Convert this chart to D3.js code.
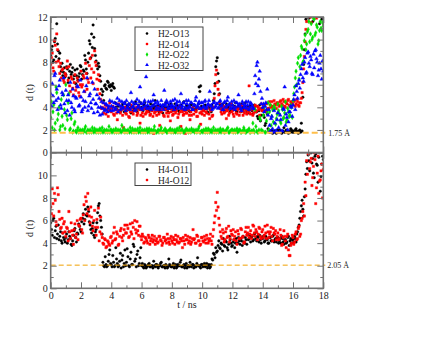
<!DOCTYPE html>
<html><head><meta charset="utf-8">
<script src="https://cdn.jsdelivr.net/npm/d3@7"></script>
<style>
body{margin:0;background:#fff}
text{font-family:"Liberation Serif","Times New Roman","DejaVu Serif",serif;fill:#222}
</style></head><body>
<script>
// time axis, one value every 0.05 ns
var t = d3.range(361).map(function(i) { return i / 20; });
var xTicks = [0, 2, 4, 6, 8, 10, 12, 14, 16, 18];
var topLabels = ["H2-O13", "H2-O14", "H2-O22", "H2-O32"];
var botLabels = ["H4-O11", "H4-O12"];
var topCut = 1.75, botCut = 2.05;

var h2o13 = [
 8.6,9.1,9.4,8.0,8.2,9.8,10.1,8.5,11.4,9.6,9.0,8.3,8.8,7.6,7.2,7.9,6.8,7.1,7.5,6.7,
 6.9,7.6,7.4,6.2,6.6,7.2,7.8,6.9,7.1,7.5,6.5,6.8,7.3,6.1,6.8,7.4,6.4,6.7,7.0,7.7,
 7.6,6.5,6.9,7.3,7.2,8.6,8.2,7.4,7.0,8.0,8.8,9.9,9.6,8.4,10.5,9.3,11.3,10.2,9.2,8.6,
 8.1,7.7,7.4,7.9,7.6,6.8,6.3,5.6,5.1,5.4,4.6,5.9,6.0,5.7,5.6,6.3,6.2,5.9,5.8,6.0,
 5.5,5.9,6.1,5.8,5.7,4.4,4.0,4.3,3.8,4.1,4.2,3.7,3.6,4.0,4.1,4.3,3.9,3.6,4.4,4.0,
 3.7,4.2,4.0,3.8,4.3,3.9,3.5,4.1,4.1,3.7,3.9,4.3,4.5,3.8,3.6,4.0,4.2,3.9,3.8,4.4,
 4.0,3.8,3.7,4.2,4.4,3.9,3.9,4.1,4.1,3.7,3.6,4.0,4.3,3.8,3.8,4.2,4.0,3.9,4.6,4.1,
 3.9,4.0,4.2,3.6,3.7,4.1,4.1,3.9,3.5,4.2,4.0,3.8,4.4,4.0,3.8,3.6,4.2,4.1,3.9,4.3,
 4.1,3.8,3.7,4.0,4.3,3.9,3.9,4.2,4.0,3.7,3.6,4.1,4.2,3.9,3.8,4.4,4.5,3.8,4.0,4.2,
 3.8,4.0,4.1,3.7,3.6,4.2,4.3,3.9,3.9,4.1,4.2,3.8,3.7,4.0,4.0,4.3,5.8,5.4,5.9,4.1,
 4.0,3.8,3.7,4.1,4.2,3.9,3.9,3.6,3.5,4.0,4.1,3.8,3.6,4.2,4.0,4.6,5.2,6.1,7.6,8.1,
 8.4,7.0,6.3,5.2,4.2,3.9,3.8,4.3,4.1,3.7,3.6,4.0,4.3,3.8,3.9,4.1,4.0,3.6,3.7,4.2,
 4.2,3.9,3.8,4.1,4.4,3.7,3.6,4.0,4.0,4.2,3.9,3.6,4.3,4.0,3.7,3.9,4.1,4.4,3.8,3.6,
 4.0,3.7,3.5,4.1,4.2,3.8,3.7,3.4,3.9,4.2,4.1,3.6,3.6,3.2,3.0,3.7,4.2,2.8,3.3,3.9,
 3.8,3.3,3.1,2.4,2.6,3.6,3.4,2.1,1.9,1.8,1.8,1.9,2.0,1.7,1.8,1.9,1.9,1.8,1.7,2.0,
 1.8,1.9,2.0,1.8,1.9,1.7,1.8,1.9,2.2,1.8,1.8,2.0,1.9,1.8,1.7,1.9,1.8,2.1,2.0,1.8,
 1.9,1.8,1.8,2.0,2.1,1.9,1.8,1.7,1.9,2.0,1.8,2.6,1.9,4.9,7.8,9.1,10.5,11.8,13,12.8,
 13,11.9,12.5,13,13,12.7,11.6,13,13,12.3,13,13,12.2,13,13,11.4,13,12.6,11.8,13,
 13];
var h2o14 = [
 7.8,8.4,8.8,7.5,7.2,9.9,9.5,8.0,10.5,9.1,8.1,7.6,7.0,7.9,6.6,7.3,7.4,6.4,6.2,7.0,
 6.8,7.5,8.1,6.4,7.6,5.9,5.4,6.7,6.5,5.7,5.1,6.2,6.9,5.5,5.8,6.6,6.3,5.3,5.0,6.0,
 7.2,5.8,6.0,6.8,6.6,5.4,7.9,7.0,5.6,6.5,6.2,7.7,8.3,6.6,7.4,8.6,6.1,7.1,9.0,8.0,
 7.7,6.5,5.6,6.9,6.4,5.2,4.7,3.9,4.0,4.4,3.5,3.9,4.2,3.4,3.8,4.1,3.2,3.7,4.4,3.9,
 3.6,3.9,4.1,3.4,3.3,3.8,3.9,3.5,2.9,3.7,4.3,3.6,3.5,4.0,3.8,3.3,2.2,3.9,4.0,3.5,
 3.4,3.8,3.9,3.2,3.1,3.6,4.2,3.9,3.6,3.4,1.8,3.7,3.7,4.0,3.3,3.5,4.1,3.8,2.6,3.3,
 3.8,3.5,3.2,3.9,4.0,3.4,3.5,3.7,2.0,3.6,3.9,3.3,3.4,3.8,3.7,3.2,1.7,3.5,3.6,3.9,
 3.3,3.7,4.0,3.4,2.4,3.6,3.6,3.9,3.9,3.3,3.2,3.8,1.9,3.5,3.8,3.2,3.5,3.9,2.8,3.6,
 3.9,3.3,3.4,3.7,1.8,3.5,3.7,3.9,3.1,3.4,4.1,3.6,2.3,3.8,3.6,3.3,3.4,3.7,1.7,3.5,
 3.5,3.9,3.8,3.3,2.9,3.6,3.3,3.8,4.0,3.4,1.9,3.7,3.6,3.2,3.2,3.9,3.9,3.5,2.5,3.6,
 3.4,3.8,3.7,3.3,1.8,3.6,3.5,3.9,4.2,3.4,3.0,3.7,3.8,3.2,3.3,4.0,4.8,5.9,6.9,7.3,
 6.2,5.6,5.1,4.4,3.9,3.6,3.4,3.8,4.1,3.5,3.6,3.9,3.0,3.7,3.8,3.3,3.5,4.0,4.3,3.6,
 3.7,3.4,3.2,3.9,4.0,3.5,3.4,3.8,3.9,3.3,3.6,4.1,4.2,3.7,3.3,3.6,3.5,3.9,3.8,3.4,
 3.6,3.9,5.9,3.5,3.4,3.8,3.9,3.3,3.5,4.0,4.2,3.6,3.7,4.1,4.0,3.8,3.3,3.9,4.3,3.7,
 3.8,4.2,4.1,3.7,3.6,4.3,4.4,3.9,3.9,4.5,4.2,4.0,4.5,4.1,4.0,4.6,4.3,4.2,3.9,4.4,
 4.4,4.2,4.1,4.5,4.6,4.3,4.2,4.7,4.5,4.1,4.0,4.4,4.3,4.6,4.7,4.2,4.1,4.5,4.4,4.3,
 4.2,4.5,4.6,4.1,4.3,4.7,4.5,4.2,4.1,4.4,4.4,4.8,5.3,6.2,7.4,8.5,9.8,10.9,11.6,12.3,
 12.4,13,13,12.0,11.5,13,13,12.8,12.6,13,13,11.9,13,13,12.1,13,13,12.5,13,13,
 13];
var h2o22 = [
 3.1,4.5,2.2,3.6,4.2,2.0,2.6,5.8,5.3,2.9,3.4,4.0,2.0,2.3,4.7,3.2,2.4,5.1,3.8,2.1,
 6.0,3.3,2.9,4.4,5.2,2.0,2.1,3.0,3.5,1.8,1.9,2.5,2.7,1.9,1.8,2.0,2.2,1.8,1.9,2.0,
 1.8,1.9,2.0,1.8,1.9,2.1,2.3,1.8,1.8,2.0,1.9,1.8,2.0,1.9,1.8,2.2,1.9,1.8,2.1,1.9,
 1.8,2.0,1.9,1.8,2.0,2.1,1.8,1.9,2.2,1.8,1.9,2.0,1.8,1.9,2.0,1.8,1.9,2.3,1.8,2.0,
 2.0,1.8,1.9,2.0,1.8,1.9,2.1,1.8,1.9,2.0,1.8,1.9,2.0,1.8,2.4,1.9,1.9,2.1,1.8,1.9,
 1.9,1.8,2.0,1.9,1.8,2.2,1.9,1.8,2.1,1.9,1.8,2.0,2.0,1.8,1.9,2.1,1.8,1.9,2.2,1.8,
 1.9,2.0,1.8,1.9,2.0,1.8,1.9,2.1,1.8,1.9,2.1,1.8,1.9,2.0,1.8,1.9,2.0,2.3,1.9,1.8,
 1.8,1.9,2.0,1.8,1.9,2.0,2.2,1.8,1.8,1.9,1.9,2.1,2.0,1.8,1.8,1.9,1.9,2.0,2.1,1.8,
 1.9,2.0,1.8,1.9,2.0,1.8,1.9,2.1,1.8,1.9,2.2,1.8,1.9,2.0,2.0,1.8,1.8,1.9,1.9,2.1,
 2.0,1.9,1.8,2.0,1.9,1.8,2.1,1.9,1.9,2.0,1.8,1.9,2.0,1.8,1.9,2.1,2.3,1.8,1.8,1.9,
 1.9,1.8,2.0,1.9,1.8,2.1,1.9,1.8,2.1,2.0,1.8,1.9,2.0,1.8,1.9,2.2,1.8,1.9,2.0,1.8,
 1.9,2.0,1.8,1.9,2.1,1.8,1.9,2.0,2.0,1.8,1.8,1.9,1.9,2.1,2.2,1.8,1.8,1.9,1.9,2.0,
 2.0,1.8,1.9,2.0,1.8,1.9,2.1,1.8,1.9,2.0,2.0,1.8,1.8,1.9,1.9,2.2,2.0,1.8,1.8,1.9,
 1.9,2.0,2.1,1.8,1.8,1.9,1.9,2.6,2.0,1.8,3.8,2.3,1.9,1.8,1.8,2.0,3.1,2.9,2.0,1.9,
 1.9,3.3,4.0,1.8,1.8,2.8,3.5,4.4,2.0,3.6,4.2,2.4,3.2,3.8,2.7,4.1,3.9,2.5,3.0,3.4,
 4.3,3.7,3.4,2.8,2.6,4.1,3.8,3.0,3.1,3.5,4.5,2.7,2.9,3.9,3.6,3.2,3.3,4.2,4.0,3.1,
 4.6,5.2,5.8,6.6,7.2,6.0,7.9,8.4,6.5,7.6,8.6,9.4,9.2,8.0,8.1,9.9,10.4,9.1,9.6,10.7,
 10.9,11.6,9.8,10.5,11.4,10.0,10.2,11.9,11.8,10.4,10.6,11.3,11.1,9.6,9.9,10.8,11.6,11.0,10.8,11.5,
 11.2];
var h2o32 = [
 5.2,4.1,6.1,5.0,4.4,6.8,7.0,4.6,5.6,3.8,4.8,5.9,6.4,4.2,3.9,5.3,5.1,6.6,4.3,3.5,
 5.5,4.6,3.7,5.1,4.6,3.3,6.2,4.4,4.0,5.6,5.0,3.8,3.6,4.9,4.8,5.9,5.8,4.1,4.2,6.4,
 4.9,3.6,3.8,4.6,5.4,4.0,4.5,5.9,6.6,3.7,4.1,5.0,5.2,4.4,3.9,6.2,4.7,3.5,5.6,4.3,
 4.3,5.1,3.6,4.0,4.8,3.3,4.0,4.5,3.4,3.9,4.4,3.7,3.8,4.3,4.2,3.6,3.9,4.1,4.6,3.7,
 4.1,4.5,3.7,4.0,4.4,3.8,3.9,4.3,4.8,3.6,4.2,4.6,3.8,4.1,4.5,3.9,4.0,4.4,4.3,3.7,
 4.6,4.0,3.9,4.3,4.2,3.8,5.3,4.5,4.0,4.1,4.4,3.7,3.8,4.3,4.7,4.0,4.1,4.5,5.8,3.9,
 4.3,3.8,4.0,4.4,4.6,4.1,6.7,3.9,4.2,4.5,3.9,4.0,4.5,3.8,4.1,4.6,5.1,4.2,4.4,3.8,
 4.0,4.5,4.3,3.9,3.8,4.2,4.6,4.0,4.2,3.8,5.5,4.3,4.1,4.6,4.4,3.9,3.9,4.2,4.5,4.0,
 4.2,4.6,4.0,3.8,4.7,4.1,4.3,4.5,3.9,4.0,4.5,4.2,5.2,3.9,4.1,4.4,4.4,3.8,4.0,4.6,
 4.3,3.9,4.6,4.1,4.0,4.4,4.4,3.8,3.8,4.2,4.2,4.6,4.9,4.0,4.1,4.3,4.5,3.9,3.9,4.4,
 4.4,4.0,4.1,4.5,4.6,3.9,4.0,4.2,4.3,4.6,5.4,4.1,4.2,3.8,3.9,4.4,4.5,4.0,4.1,4.3,
 4.3,3.9,4.0,4.5,4.6,4.1,4.2,3.8,3.8,4.4,4.5,4.0,4.1,4.6,4.9,4.2,4.3,3.9,3.9,4.5,
 4.2,4.0,4.6,3.8,4.0,4.4,4.4,4.1,5.1,4.3,4.1,3.9,3.7,4.5,4.3,4.0,4.0,4.2,4.5,3.9,
 4.2,4.5,3.8,4.0,4.4,4.3,4.1,3.9,3.9,5.2,6.8,6.1,7.7,8.0,5.9,6.5,7.2,5.4,4.3,4.8,
 4.0,4.3,3.6,4.1,4.4,3.8,5.6,3.3,3.8,2.4,1.9,3.0,3.2,2.1,1.8,3.7,2.6,1.9,1.9,2.9,
 3.5,2.2,1.8,3.3,2.9,1.9,1.9,3.9,3.8,5.8,2.4,3.4,3.1,2.0,2.7,3.6,3.6,4.1,4.0,3.2,
 4.2,4.7,5.1,3.8,5.9,5.4,4.8,6.1,6.4,5.7,6.9,7.4,7.8,6.6,6.3,8.0,8.4,7.0,7.1,8.8,
 8.9,7.9,7.6,8.5,8.2,7.0,6.9,8.7,7.5,9.0,9.1,8.3,8.0,6.8,7.3,7.9,8.6,7.4,6.5,8.1,
 7.2];
var h4o11 = [
 5.8,5.2,4.7,6.0,6.2,4.5,5.1,5.5,4.4,4.8,5.6,4.3,4.6,5.0,4.2,4.0,4.9,4.5,4.3,4.1,
 4.5,4.8,4.0,4.3,5.0,4.6,4.4,3.9,3.8,4.2,4.7,5.1,5.3,4.5,4.1,4.9,4.8,5.7,5.5,5.2,
 5.0,5.9,6.2,6.6,5.7,6.1,7.0,6.5,6.4,7.2,6.8,5.9,5.6,5.2,4.9,5.3,5.8,4.7,4.5,5.0,
 5.2,5.8,6.7,7.3,7.5,6.4,6.0,5.4,4.8,2.3,2.0,1.9,2.8,2.1,1.9,2.0,2.4,3.0,3.4,2.2,
 2.1,1.9,2.9,2.3,1.9,2.0,3.6,2.6,2.2,1.9,2.0,2.4,3.1,1.8,2.5,2.9,1.9,2.2,3.4,2.0,
 2.3,3.5,2.8,2.0,1.9,2.6,3.2,2.1,2.1,3.9,3.7,2.4,2.6,1.9,3.0,3.3,2.0,2.2,2.7,3.6,
 2.0,2.2,1.9,1.8,2.1,2.0,1.8,1.9,2.0,2.1,2.2,1.9,1.9,2.0,2.0,1.8,2.4,2.0,1.9,2.1,
 2.1,1.9,1.8,2.0,2.0,2.2,2.3,1.9,1.9,2.0,2.0,1.8,2.1,2.0,1.8,1.9,2.6,2.1,2.0,1.9,
 1.9,2.0,2.2,1.8,2.0,2.1,1.8,1.9,2.1,2.0,2.0,2.3,2.5,1.9,1.9,2.0,2.1,1.8,2.0,2.2,
 1.8,2.0,2.0,1.9,2.3,2.0,1.9,2.1,2.1,1.8,2.0,1.9,1.9,2.2,2.7,2.0,2.0,1.9,1.8,2.1,
 2.1,1.9,2.0,2.2,1.9,2.0,2.2,1.8,2.0,2.1,1.8,1.9,2.1,2.6,2.5,3.1,3.0,2.7,3.6,3.2,
 3.3,3.8,4.2,3.6,3.5,4.0,3.9,3.3,4.4,3.8,3.7,4.2,4.1,3.6,3.4,3.9,4.6,4.3,4.0,3.7,
 3.8,4.1,4.3,3.6,4.0,4.4,3.2,4.0,4.5,4.2,3.9,4.4,4.2,3.8,4.6,4.1,4.0,4.5,4.3,3.9,
 4.8,4.3,4.4,4.7,4.1,4.5,4.6,4.2,4.3,4.8,4.9,4.4,4.2,4.6,4.5,4.1,4.7,4.3,4.0,4.5,
 4.4,4.6,4.1,4.2,4.6,4.4,4.3,4.0,4.0,4.5,4.5,4.2,4.2,4.6,4.7,4.1,4.3,4.4,4.1,4.5,
 4.5,4.0,4.2,4.4,4.0,4.6,4.4,4.1,3.9,4.3,4.3,4.0,4.1,4.5,4.6,3.8,4.2,4.4,4.0,4.3,
 4.3,4.1,4.6,4.4,4.1,4.8,5.0,5.4,5.6,6.2,6.8,7.3,7.8,7.0,6.4,8.1,8.8,10.1,11.2,10.6,
 11.8,11.3,10.4,12.0,12.0,11.1,11.5,10.2,9.8,11.7,11.9,11.0,10.9,9.4,11.6,12.0,8.6,9.9,11.0,11.7,
 11.4];
var h4o12 = [
 7.2,6.6,8.8,7.5,6.4,8.4,7.8,5.9,5.6,8.9,8.3,6.8,6.1,5.3,5.4,6.2,4.9,5.7,5.9,5.0,
 4.6,5.4,5.3,4.2,6.8,5.0,4.4,5.8,5.1,4.7,3.9,5.2,5.7,4.5,4.8,6.0,4.3,5.6,5.5,6.1,
 6.2,5.2,4.9,6.5,7.4,6.0,8.1,7.7,6.6,8.4,7.0,6.4,5.8,7.2,6.3,5.5,5.1,6.0,6.9,5.4,
 4.7,6.1,5.4,7.1,4.2,5.0,6.3,4.8,4.5,4.0,3.9,4.4,4.3,3.6,3.7,4.2,4.1,3.9,3.8,4.5,
 4.6,4.0,4.2,4.9,5.4,4.3,4.4,5.0,4.8,3.8,3.9,4.6,5.1,5.3,4.5,4.2,4.7,5.2,5.6,4.9,
 4.9,5.6,5.3,4.5,4.6,5.7,5.0,4.8,5.8,5.4,4.4,6.0,5.2,4.9,5.9,5.1,4.7,5.5,5.5,4.6,
 4.3,4.8,4.6,4.0,4.1,4.5,4.4,4.2,4.0,4.7,4.5,3.9,4.2,4.4,4.7,4.1,4.3,4.6,3.9,4.2,
 4.4,4.0,4.1,4.6,4.6,4.3,4.2,3.8,4.0,4.5,4.5,4.2,4.3,4.0,4.8,4.4,4.1,3.9,4.4,4.6,
 4.2,4.0,4.5,4.3,3.9,4.7,4.3,4.1,4.6,4.0,4.1,4.4,4.4,4.2,3.6,4.5,4.2,3.9,4.7,4.3,
 4.3,4.6,4.0,4.2,4.5,3.9,4.1,4.4,5.2,4.3,4.4,4.0,4.0,4.7,4.6,4.2,4.2,3.8,3.9,4.5,
 4.5,4.2,4.1,4.6,4.3,4.0,4.7,4.4,4.0,4.2,4.4,4.8,4.2,3.9,4.6,5.2,5.8,6.4,7.6,6.9,
 8.5,7.2,6.2,5.6,5.0,4.6,4.4,5.2,4.9,4.1,4.3,5.0,5.3,4.5,4.6,5.5,4.1,4.4,5.1,4.8,
 4.7,5.2,4.3,4.6,5.0,4.2,3.9,5.1,4.8,4.4,4.4,5.3,5.2,4.5,4.6,4.0,4.1,5.0,5.4,4.7,
 4.9,5.4,4.5,4.8,5.1,4.4,4.7,5.6,5.5,4.9,4.6,5.2,5.0,4.3,4.8,5.4,5.3,4.6,4.4,5.0,
 5.2,4.5,4.7,5.5,4.9,4.4,5.6,5.0,4.5,4.8,5.0,5.4,4.6,4.2,5.3,4.9,4.8,5.1,4.3,4.6,
 4.9,4.3,4.4,5.2,4.7,3.8,3.9,4.5,5.1,4.6,4.2,3.6,4.6,4.8,3.4,2.9,2.9,3.8,4.0,4.7,
 4.5,3.9,4.1,4.8,5.0,4.3,4.4,5.3,5.5,4.6,4.8,6.0,6.2,6.8,7.5,6.4,9.4,8.2,11.3,10.1,
 11.9,12.0,10.6,11.2,11.5,9.1,9.8,10.8,12.0,11.4,7.5,8.9,10.2,11.7,8.4,9.5,9.6,10.4,11.0,8.0,
 10.5];

var width = 440, height = 340;
var serif = '"Liberation Serif","Times New Roman","DejaVu Serif",serif';
var svg = d3.select("body").append("svg")
    .attr("width", width)
    .attr("height", height)
    .attr("font-family", serif);

var x = d3.scaleLinear().domain([0, 18]).range([50.7, 323.3]);
var yTop = d3.scaleLinear().domain([0, 12]).range([152.5, 17]);
var yBot = d3.scaleLinear().domain([0, 12]).range([288.3, 152.8]);

var even = [0, 2, 4, 6, 8, 10, 12], odd = [1, 3, 5, 7, 9, 11];
var xMinor = d3.range(1, 18, 2);
var gray = "#707070";

var symbols = [
  {type: d3.symbolCircle, size: 5, color: "#000000"},
  {type: d3.symbolSquare, size: 5.5, color: "#ff0000"},
  {type: d3.symbolDiamond, size: 6, color: "#00e000"},
  {type: d3.symbolTriangle, size: 6, color: "#0000ff"}
];

function clipFor(id, y) {
  svg.append("clipPath").attr("id", id)
    .append("rect")
    .attr("x", x(0)).attr("y", y(12))
    .attr("width", x(18) - x(0)).attr("height", y(0) - y(12));
}
clipFor("clipTop", yTop);
clipFor("clipBot", yBot);

function drawSeries(g, vals, y, s) {
  g.append("g").selectAll("path").data(vals).join("path")
    .attr("transform", function(d, i) { return "translate(" + x(t[i]) + "," + y(d) + ")"; })
    .attr("d", d3.symbol(s.type, s.size))
    .attr("fill", s.color)
    .attr("stroke", s.color)
    .attr("stroke-width", 0.4);
}

var gTop = svg.append("g").attr("clip-path", "url(#clipTop)");
[h2o13, h2o14, h2o22, h2o32].forEach(function(v, i) { drawSeries(gTop, v, yTop, symbols[i]); });

var gBot = svg.append("g").attr("clip-path", "url(#clipBot)");
[h4o11, h4o12].forEach(function(v, i) { drawSeries(gBot, v, yBot, symbols[i]); });

// cutoff lines
svg.append("line")
    .attr("x1", x(0)).attr("x2", x(18) + 2)
    .attr("y1", yTop(topCut)).attr("y2", yTop(topCut))
    .attr("stroke", "#ffbf4a").attr("stroke-width", 2.2)
    .attr("stroke-dasharray", "6,3");
svg.append("text").attr("x", x(18) + 5).attr("y", yTop(topCut) + 3)
    .style("font-size", "8px").text(topCut.toFixed(2) + " Å");
svg.append("line")
    .attr("x1", x(0)).attr("x2", x(18) + 2)
    .attr("y1", yBot(botCut)).attr("y2", yBot(botCut))
    .attr("stroke", "#f0a000").attr("stroke-width", 1)
    .attr("stroke-dasharray", "5,3");
svg.append("text").attr("x", x(18) + 4).attr("y", yBot(botCut) + 3)
    .style("font-size", "8px").text(botCut.toFixed(2) + " Å");

// axes: ticks point inward
function styleAxis(g) {
  g.attr("font-family", serif);
  g.select(".domain").remove();
  g.selectAll(".tick line").attr("stroke", gray);
  g.selectAll("text").style("font-size", "10px").attr("fill", "#222");
}
function frame(y, xLabels, yVals) {
  var x0 = x(0), x1 = x(18), y0 = y(0), y1 = y(12);
  var axes = [
    [d3.axisLeft(y).tickValues(yVals).tickSize(-6).tickPadding(3), "translate(" + x0 + ",0)"],
    [d3.axisLeft(y).tickValues(odd).tickSize(-3).tickFormat(""), "translate(" + x0 + ",0)"],
    [d3.axisRight(y).tickValues(even).tickSize(-6).tickFormat(""), "translate(" + x1 + ",0)"],
    [d3.axisRight(y).tickValues(odd).tickSize(-3).tickFormat(""), "translate(" + x1 + ",0)"],
    [d3.axisTop(x).tickValues(xTicks).tickSize(-6).tickFormat(""), "translate(0," + y1 + ")"],
    [d3.axisTop(x).tickValues(xMinor).tickSize(-3).tickFormat(""), "translate(0," + y1 + ")"],
    [d3.axisBottom(x).tickValues(xTicks).tickSize(-6).tickPadding(4).tickFormat(xLabels ? d3.format("d") : ""), "translate(0," + y0 + ")"],
    [d3.axisBottom(x).tickValues(xMinor).tickSize(-3).tickFormat(""), "translate(0," + y0 + ")"]
  ];
  axes.forEach(function(a) {
    svg.append("g").attr("transform", a[1]).call(a[0]).call(styleAxis);
  });
  svg.append("rect")
    .attr("x", x0).attr("y", y1)
    .attr("width", x1 - x0).attr("height", y0 - y1)
    .attr("fill", "none").attr("stroke", gray).attr("stroke-width", 1.6);
}
frame(yTop, false, even);
frame(yBot, true, [0, 2, 4, 6, 8, 10]);

// axis titles
svg.append("text").attr("transform", "translate(33," + yTop(5.3) + ") rotate(-90)")
    .attr("text-anchor", "middle").style("font-size", "10px").text("d (t)");
svg.append("text").attr("transform", "translate(33," + yBot(5.3) + ") rotate(-90)")
    .attr("text-anchor", "middle").style("font-size", "10px").text("d (t)");
svg.append("text").attr("x", x(9)).attr("y", 308)
    .attr("text-anchor", "middle").style("font-size", "10px").text("t / ns");

// legends
function legend(labels, bx, by, bw) {
  var g = svg.append("g");
  g.append("rect").attr("x", bx).attr("y", by)
    .attr("width", bw).attr("height", labels.length * 10.5 + 1.5)
    .attr("fill", "#fff").attr("stroke", "#444").attr("stroke-width", 1);
  labels.forEach(function(l, i) {
    var cy = by + 6.5 + i * 10.5;
    g.append("path")
      .attr("transform", "translate(" + (bx + 12) + "," + cy + ")")
      .attr("d", d3.symbol(symbols[i].type, symbols[i].size))
      .attr("fill", symbols[i].color);
    g.append("text").attr("x", bx + 23).attr("y", cy + 3.5)
      .style("font-size", "9.5px").text(l);
  });
}
legend(topLabels, 135, 27, 68);
legend(botLabels, 135, 163, 56);
</script>
</body></html>
